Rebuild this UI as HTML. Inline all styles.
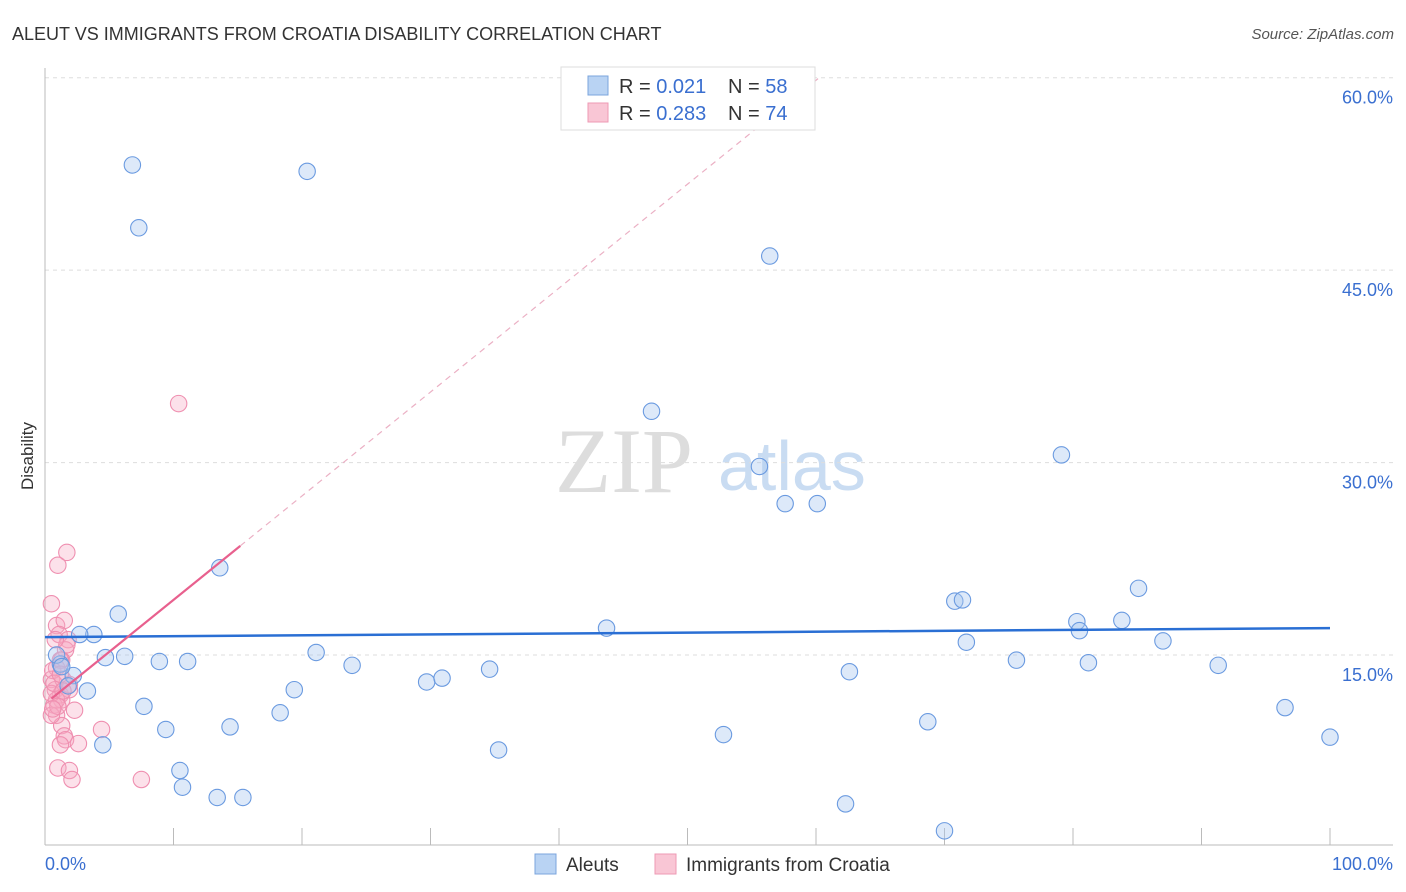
<!DOCTYPE html>
<html><head><meta charset="utf-8"><style>
body{margin:0;background:#fff;font-family:"Liberation Sans",sans-serif;}
svg{display:block}
</style></head><body>
<svg width="1406" height="892" xmlns="http://www.w3.org/2000/svg">
<text x="12" y="40" font-size="18" fill="#333">ALEUT VS IMMIGRANTS FROM CROATIA DISABILITY CORRELATION CHART</text>
<text x="1394" y="39" font-size="15" fill="#555" font-style="italic" text-anchor="end">Source: ZipAtlas.com</text>
<text x="33" y="456" font-size="17" fill="#333" text-anchor="middle" transform="rotate(-90 33 456)">Disability</text>
<g>
<text x="555" y="492" font-size="92" font-family="Liberation Serif,serif" fill="#ddd">ZIP</text>
<text x="718" y="490" font-size="70" fill="#c9dcf2">atlas</text>
</g>
<g id="grid"></g><g id="axes"></g><g id="marks"></g>
<g>
<rect x="561" y="67" width="254" height="63" fill="#fff" stroke="#ddd"/>
<rect x="588" y="76" width="20" height="19" fill="#b9d3f3" stroke="#7ba4dc"/>
<rect x="588" y="103" width="20" height="19" fill="#f9c6d5" stroke="#ee9ab4"/>
<text x="619" y="93" font-size="20" fill="#333">R = <tspan fill="#3a6fd0">0.021</tspan></text>
<text x="728" y="93" font-size="20" fill="#333">N = <tspan fill="#3a6fd0">58</tspan></text>
<text x="619" y="120" font-size="20" fill="#333">R = <tspan fill="#3a6fd0">0.283</tspan></text>
<text x="728" y="120" font-size="20" fill="#333">N = <tspan fill="#3a6fd0">74</tspan></text>
</g>
<g>
<rect x="535" y="854" width="21" height="20" fill="#b9d3f3" stroke="#7ba4dc"/>
<text x="566" y="871" font-size="19" fill="#333">Aleuts</text>
<rect x="655" y="854" width="21" height="20" fill="#f9c6d5" stroke="#ee9ab4"/>
<text x="686" y="871" font-size="19" fill="#333">Immigrants from Croatia</text>
</g>
<script>
const yTicks=[15,30,45,60];
const yTickLabels=["15.0%","30.0%","45.0%","60.0%"];
const xTicks=[0,10,20,30,40,50,60,70,80,90,100];
const aleutX=[6.8,7.3,20.4,56.4,47.2,55.6,57.6,60.1,79.1,13.6,5.7,3.8,2.7,6.2,4.7,8.9,11.1,21.1,23.9,1.2,2.2,3.3,19.4,7.7,9.4,14.4,18.3,29.7,30.9,34.6,35.3,4.5,10.5,10.7,13.4,15.4,43.7,52.8,62.3,70.0,68.7,62.6,70.8,71.4,71.7,75.6,80.3,80.5,81.2,83.8,85.1,87.0,91.3,96.5,100,0.9,1.8,1.3];
const aleutY=[53.2,48.3,52.7,46.1,34.0,29.7,26.8,26.8,30.6,21.8,18.2,16.6,16.6,14.9,14.8,14.5,14.5,15.2,14.2,14.3,13.4,12.2,12.3,11.0,9.2,9.4,10.5,12.9,13.2,13.9,7.6,8.0,6.0,4.7,3.9,3.9,17.1,8.8,3.4,1.3,9.8,13.7,19.2,19.3,16.0,14.6,17.6,16.9,14.4,17.7,20.2,16.1,14.2,10.9,8.6,15.0,12.6,14.1];
const croX=[1.7,1.0,0.5,0.9,1.5,1.1,1.8,1.6,1.3,0.9,0.5,0.8,1.2,1.3,0.7,0.9,1.9,2.3,1.3,1.5,1.6,1.2,2.6,4.4,1.0,1.9,2.1,7.5,10.4,0.5,0.9,1.4,1.9,0.6,1.2,1.7,0.8,0.5,0.7,1.0,1.4,0.6,1.2];
const croY=[23.0,22.0,19.0,17.3,17.7,16.6,16.2,15.4,14.6,14.0,13.1,12.3,11.9,11.5,11.1,10.3,12.3,10.7,9.5,8.7,8.4,8.0,8.1,9.2,6.2,6.0,5.3,5.3,34.6,10.3,11.5,13.1,12.7,13.8,14.6,15.8,16.2,12.0,12.8,11.0,12.2,10.8,13.5];
const aleutTrend=[16.4,17.1];
const croTrend={intercept:11.2,slope:0.81,solidEnd:15.2,dashEnd:60.2,start:0.5};
const NS="http://www.w3.org/2000/svg";
const xs=v=>45+v*12.85, ys=v=>847.5-v*12.83;
function mk(t,a,p){const e=document.createElementNS(NS,t);for(const k in a)e.setAttribute(k,a[k]);p.appendChild(e);return e;}
const grid=document.getElementById('grid'),axes=document.getElementById('axes'),marks=document.getElementById('marks');
yTicks.forEach((t,i)=>{
 const l=mk('line',{x1:45,x2:1393,y1:ys(t),y2:ys(t),stroke:'#ddd','stroke-dasharray':'4,4'},grid);
 
 
 const tx=mk('text',{x:1393,y:ys(t)+26,'font-size':18,fill:'#3a6fd0','text-anchor':'end'},axes);
 tx.textContent=yTickLabels[i];
 
 
});
const ya=mk('line',{x1:45,x2:45,y1:68,y2:845,stroke:'#bbb'},axes);


const xa=mk('line',{x1:45,x2:1393,y1:845,y2:845,stroke:'#bbb'},axes);


xTicks.forEach(t=>{const l=mk('line',{x1:xs(t),x2:xs(t),y1:828,y2:845,stroke:'#bbb'},axes);
 
 });
const x0=mk('text',{x:45,y:870,'font-size':18,fill:'#3a6fd0'},axes);x0.textContent='0.0%';


const x1=mk('text',{x:1393,y:870,'font-size':18,fill:'#3a6fd0','text-anchor':'end'},axes);x1.textContent='100.0%';


croX.forEach((x,i)=>{const c=mk('circle',{cx:xs(x),cy:ys(croY[i]),r:8.2,fill:'rgba(246,170,195,0.35)',stroke:'#ef8fb0','stroke-width':1.1},marks);
 
 });
aleutX.forEach((x,i)=>{const c=mk('circle',{cx:xs(x),cy:ys(aleutY[i]),r:8.2,fill:'rgba(170,200,240,0.4)',stroke:'#6a9ae0','stroke-width':1.1},marks);
 
 });
const bt=mk('line',{x1:xs(0),x2:xs(100),y1:ys(aleutTrend[0]),y2:ys(aleutTrend[1]),stroke:'#2a6fd4','stroke-width':2.5},marks);


const cy=x=>croTrend.intercept+croTrend.slope*x;
const pt=mk('line',{x1:xs(croTrend.start),x2:xs(croTrend.solidEnd),y1:ys(cy(croTrend.start)),y2:ys(cy(croTrend.solidEnd)),stroke:'#e8608e','stroke-width':2.2},marks);


const pd=mk('line',{x1:xs(croTrend.solidEnd),x2:xs(croTrend.dashEnd),y1:ys(cy(croTrend.solidEnd)),y2:ys(cy(croTrend.dashEnd)),stroke:'#ebb0c4','stroke-width':1.2,'stroke-dasharray':'6,5'},marks);


</script>
</svg>
</body></html>
